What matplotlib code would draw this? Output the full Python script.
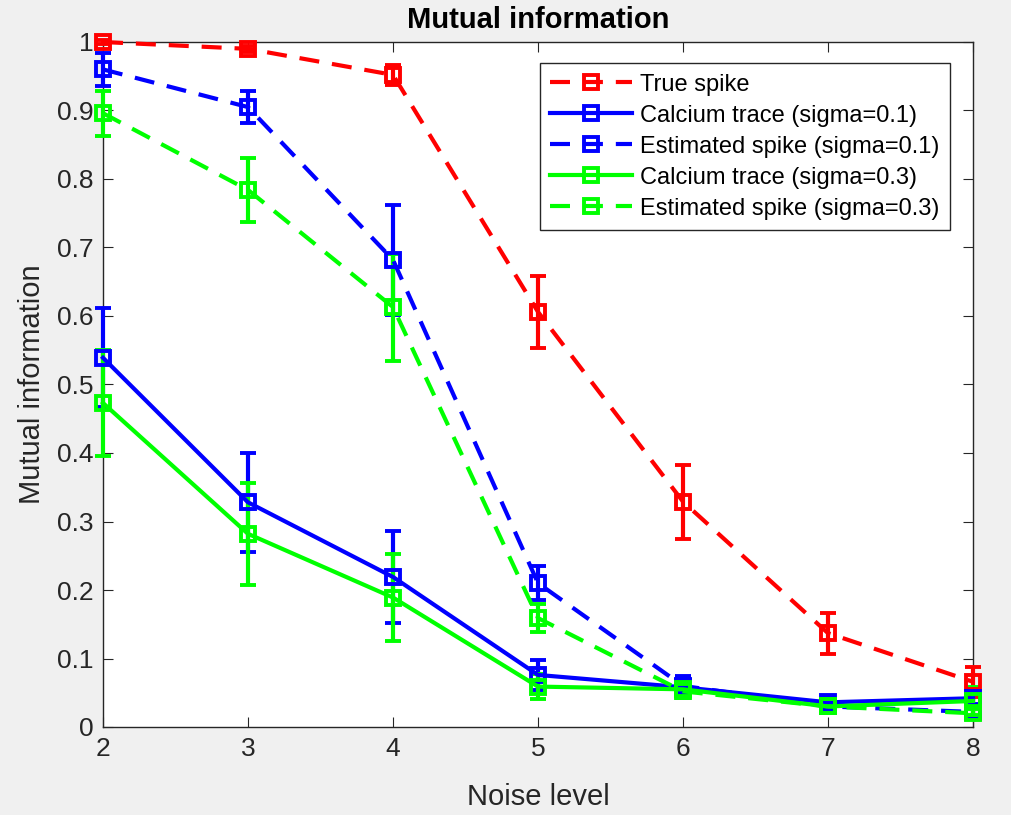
import matplotlib
matplotlib.use('Agg')
import matplotlib.pyplot as plt

plt.rcParams['font.family'] = ['Liberation Sans', 'DejaVu Sans']

# Noise levels on the x axis
noise = [2, 3, 4, 5, 6, 7, 8]

# Mean mutual information and error bar half-widths
true_spike = [1.000, 0.990, 0.952, 0.606, 0.329, 0.137, 0.066]
true_spike_err = [0.003, 0.004, 0.015, 0.052, 0.054, 0.030, 0.022]

calcium_01 = [0.539, 0.328, 0.219, 0.076, 0.058, 0.036, 0.042]
calcium_01_err = [0.072, 0.072, 0.067, 0.022, 0.012, 0.006, 0.008]

est_spike_01 = [0.960, 0.905, 0.682, 0.210, 0.060, 0.030, 0.022]
est_spike_01_err = [0.024, 0.023, 0.080, 0.025, 0.015, 0.006, 0.006]

calcium_03 = [0.473, 0.282, 0.189, 0.059, 0.055, 0.030, 0.038]
calcium_03_err = [0.078, 0.074, 0.064, 0.018, 0.010, 0.008, 0.020]

est_spike_03 = [0.896, 0.784, 0.613, 0.159, 0.052, 0.030, 0.020]
est_spike_03_err = [0.033, 0.047, 0.078, 0.020, 0.010, 0.006, 0.006]

labels = ['True spike', 'Calcium trace (sigma=0.1)', 'Estimated spike (sigma=0.1)',
          'Calcium trace (sigma=0.3)', 'Estimated spike (sigma=0.3)']

fig = plt.figure(figsize=(10.12, 8.15), dpi=100, facecolor='#f0f0f0')
ax = fig.add_axes([103 / 1012, 1 - 727 / 815, 870 / 1012, 685 / 815])

series = [
    (true_spike, true_spike_err, '#ff0000', 'dashed'),
    (calcium_01, calcium_01_err, '#0000ff', 'solid'),
    (est_spike_01, est_spike_01_err, '#0000ff', 'dashed'),
    (calcium_03, calcium_03_err, '#00ff00', 'solid'),
    (est_spike_03, est_spike_03_err, '#00ff00', 'dashed'),
]

handles = []
for (vals, errs, col, style), lab in zip(series, labels):
    eb = ax.errorbar(noise, vals, yerr=errs, color=col, lw=3, marker='s', ms=10,
                     mfc='none', mec=col, mew=2.8, capsize=6, capthick=3,
                     elinewidth=3, label=lab)
    line = eb.lines[0]
    if style == 'dashed':
        line.set_dashes((4.8, 3.1))
    # MATLAB lets the marks spill over the axes box
    line.set_clip_on(False)
    for c in eb.lines[1]:
        c.set_clip_on(False)
    for c in eb.lines[2]:
        c.set_clip_on(False)
    handles.append(line)

ax.set_xlim(2, 8)
ax.set_ylim(0, 1)
ax.set_xticks(noise)
ax.set_yticks([0, 0.1, 0.2, 0.3, 0.4, 0.5, 0.6, 0.7, 0.8, 0.9, 1])
ax.set_yticklabels(['0', '0.1', '0.2', '0.3', '0.4', '0.5', '0.6', '0.7', '0.8', '0.9', '1'])
ax.tick_params(direction='in', top=True, right=True, labelsize=19, length=7,
               color='#262626', labelcolor='#262626', pad=7)
for s in ax.spines.values():
    s.set_color('#262626')
    s.set_linewidth(1)
    s.set_zorder(0)

ax.set_xlabel('Noise level', fontsize=21, color='#262626', labelpad=16)
ax.set_ylabel('Mutual information', fontsize=21, color='#262626', labelpad=8)
ax.set_title('Mutual information', fontsize=21, fontweight='bold', pad=10)

leg = ax.legend(handles, labels, loc='upper right', bbox_to_anchor=(0.9736, 0.9693),
                fontsize=17, fancybox=False, edgecolor='#262626', framealpha=1,
                borderpad=0.45, labelspacing=0.38, handlelength=3.45, handletextpad=0.35,
                borderaxespad=0)
leg.get_frame().set_linewidth(1)

fig.savefig('out.png', dpi=100, facecolor=fig.get_facecolor())
